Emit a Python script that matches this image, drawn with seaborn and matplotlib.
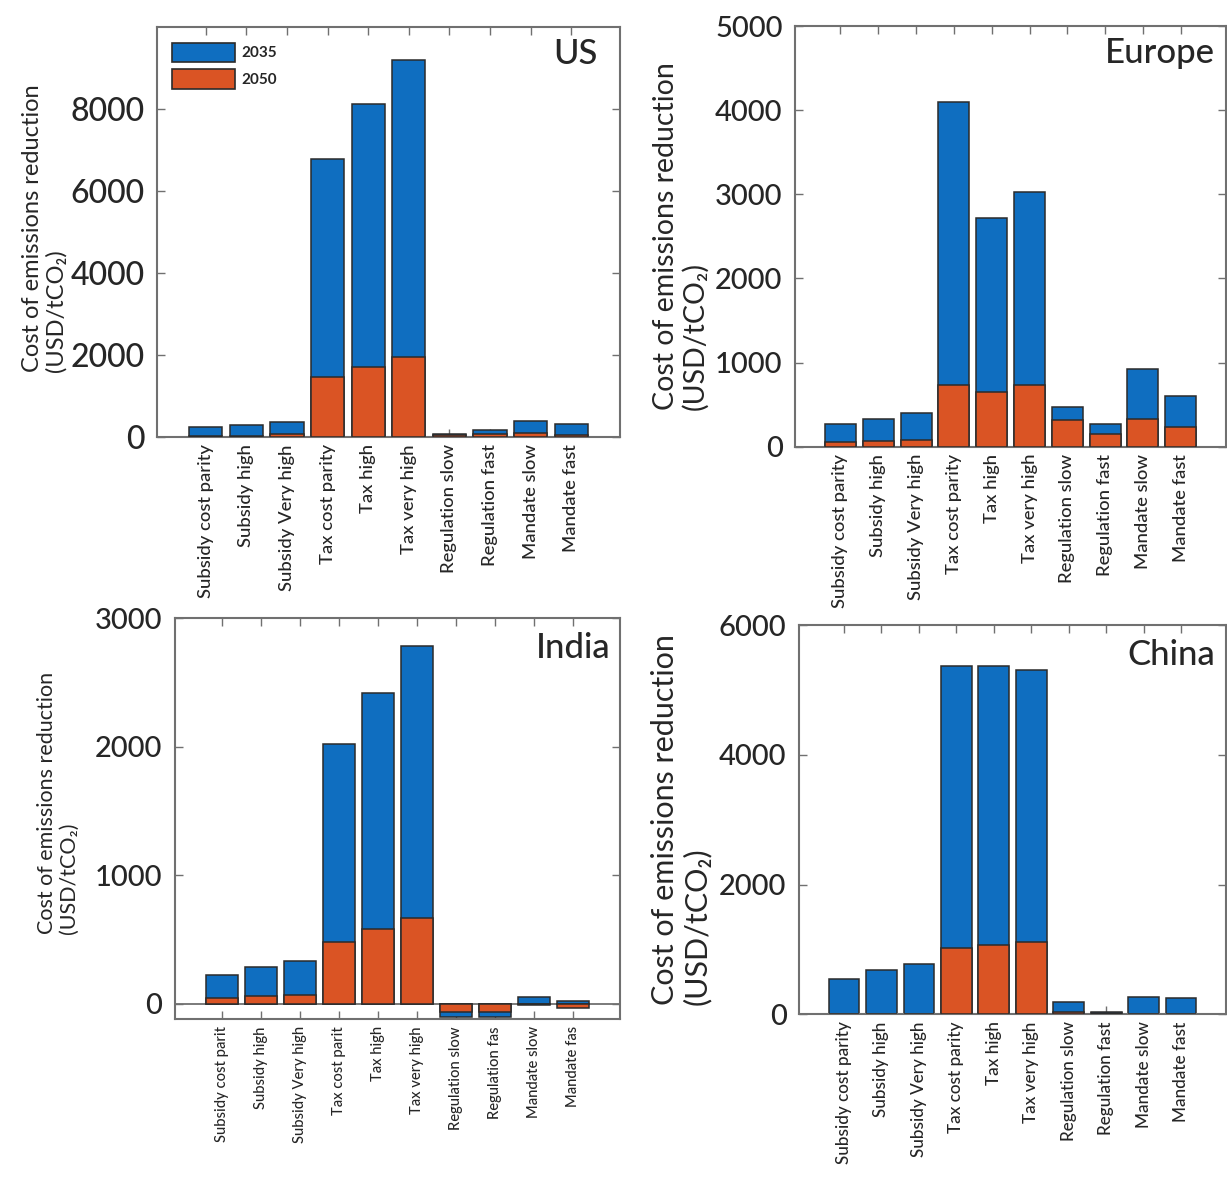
import matplotlib
matplotlib.use("Agg")
import matplotlib.pyplot as plt
from matplotlib import font_manager
from matplotlib.patches import Patch
import seaborn as sns

# Policy scenarios (x categories)
categories = ["Subsidy cost parity", "Subsidy high", "Subsidy Very high",
              "Tax cost parity", "Tax high", "Tax very high",
              "Regulation slow", "Regulation fast", "Mandate slow", "Mandate fast"]
india_labels = ["Subsidy cost parit", "Subsidy high", "Subsidy Very high",
                "Tax cost parit", "Tax high", "Tax very high",
                "Regulation slow", "Regulation fas", "Mandate slow", "Mandate fas"]

# Cost of emissions reduction (USD/tCO2)
us_2035 = [250, 310, 370, 6790, 8120, 9210, 90, 170, 400, 330]
us_2050 = [40, 40, 80, 1460, 1720, 1960, 50, 80, 110, 60]
europe_2035 = [275, 335, 405, 4100, 2720, 3030, 470, 265, 925, 605]
europe_2050 = [60, 65, 75, 735, 645, 735, 320, 155, 325, 240]
india_2035 = [226, 285, 332, 2020, 2420, 2785, -105, -105, 52, 26]
india_2050 = [47, 62, 72, 480, 580, 672, -60, -60, -10, -30]
china_2035 = [540, 680, 775, 5370, 5370, 5310, 190, 40, 260, 255]
china_2050 = [10, 10, 10, 1020, 1070, 1120, 35, 20, 10, 10]

years = ["2035", "2050"]
BLUE = "#0F6EC0"
ORANGE = "#DA5424"
EDGE = "#2b2b2b"
SPINE = "#707070"
TXT = "#262626"

sns.set_theme(style="white")
available = {f.name for f in font_manager.fontManager.ttflist}
family = next((f for f in ["Lato", "Open Sans", "DejaVu Sans"] if f in available), "DejaVu Sans")
plt.rcParams["font.family"] = [family, "DejaVu Sans"]
plt.rcParams["font.weight"] = "medium"

fig = plt.figure(figsize=(12.27, 11.8), dpi=100)

panels = [
    dict(name="US", v1=us_2035, v2=us_2050, rect=[0.128, 0.6294, 0.3773, 0.3475],
         ylim=(0, 10000), yticks=[0, 2000, 4000, 6000, 8000], xl=categories,
         tick=23, lab=17, xlab=13.3, lx=-0.195, ly=0.51, tx=0.952, ty=0.975),
    dict(name="Europe", v1=europe_2035, v2=europe_2050, rect=[0.648, 0.6214, 0.3513, 0.3565],
         ylim=(0, 5000), yticks=[0, 1000, 2000, 3000, 4000, 5000], xl=categories,
         tick=21, lab=20.5, xlab=13.3, lx=-0.2, ly=0.5, tx=0.974, ty=0.975),
    dict(name="India", v1=india_2035, v2=india_2050, rect=[0.1426, 0.1362, 0.3627, 0.3398],
         ylim=(-120, 3000), yticks=[0, 1000, 2000, 3000], xl=india_labels,
         tick=21, lab=15.5, xlab=10.6, lx=-0.215, ly=0.54, tx=0.978, ty=0.965),
    dict(name="China", v1=china_2035, v2=china_2050, rect=[0.6512, 0.1404, 0.348, 0.3299],
         ylim=(0, 6000), yticks=[0, 2000, 4000, 6000], xl=categories,
         tick=21, lab=22, xlab=12.3, lx=-0.205, ly=0.5, tx=0.974, ty=0.965),
]

for p in panels:
    ax = fig.add_axes(p["rect"])
    sns.barplot(x=categories, y=p["v1"], color=BLUE, saturation=1, width=0.82,
                edgecolor=EDGE, linewidth=1.1, errorbar=None, ax=ax, zorder=2)
    sns.barplot(x=categories, y=p["v2"], color=ORANGE, saturation=1, width=0.82,
                edgecolor=EDGE, linewidth=1.1, errorbar=None, ax=ax, zorder=3)
    ax.set_xlim(-1.2, len(categories) - 1 + 1.2)
    ax.set_ylim(*p["ylim"])
    ax.set_yticks(p["yticks"])
    ax.set_yticklabels([str(t) for t in p["yticks"]], fontsize=p["tick"], color=TXT)
    ax.set_xticks(range(len(categories)))
    ax.set_xticklabels(p["xl"], rotation=90, fontsize=p["xlab"], color=TXT)
    ax.tick_params(axis="both", direction="in", length=6, width=1, color=SPINE,
                   top=True, right=True, bottom=True, left=True)
    ax.tick_params(axis="y", pad=9)
    ax.tick_params(axis="x", pad=5)
    for s in ax.spines.values():
        s.set_color(SPINE)
        s.set_linewidth(1.5)
        s.set_visible(True)
    if p["name"] == "India":
        ax.axhline(0, color=SPINE, lw=1.3, zorder=1)
    ax.set_xlabel("")
    ax.set_ylabel("Cost of emissions reduction\n(USD/tCO\u2082)", fontsize=p["lab"],
                  color=TXT, multialignment="left", linespacing=1.15)
    ax.yaxis.set_label_coords(p["lx"], p["ly"])
    ax.text(p["tx"], p["ty"], p["name"], transform=ax.transAxes, ha="right", va="top",
            fontsize=25, color=TXT)
    ax.grid(False)
    if p["name"] == "US":
        handles = [Patch(facecolor=BLUE, edgecolor=EDGE, linewidth=1.2),
                   Patch(facecolor=ORANGE, edgecolor=EDGE, linewidth=1.2)]
        ax.legend(handles, years, loc="upper left", bbox_to_anchor=(0.0, 1.0),
                  frameon=False, handlelength=4.1, handleheight=1.6,
                  handletextpad=0.4, labelspacing=0.45, borderaxespad=0.6,
                  prop={"size": 11, "weight": "bold"})

fig.savefig("out.png", dpi=100)
